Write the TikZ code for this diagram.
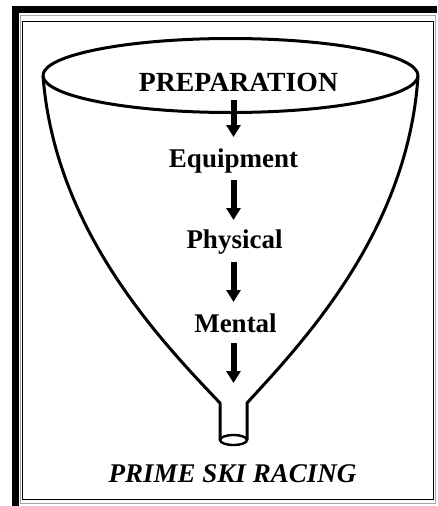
\documentclass[tikz,border=0pt]{standalone}
\usepackage{fontspec}
\setmainfont{Liberation Serif}
\usetikzlibrary{arrows.meta,calc}
\begin{document}
\begin{tikzpicture}[x=1pt,y=-1pt,
  lbl/.style={inner sep=0pt, anchor=base, font=\bfseries\fontsize{27}{29}\selectfont},
  flow/.style={line width=6pt, -{Triangle[length=12pt,width=14pt]}},
  funnel/.style={line width=3pt, line join=round}]
\useasboundingbox (0,0) rectangle (437,506);
% frame
\fill (12,6) rectangle (437,13);
\fill (12,6) rectangle (19,506);
\draw[gray!70, line width=1pt] (20.5,15.5) rectangle (435.5,503);
\draw[line width=1.4pt] (22.5,21.5) rectangle (433.5,499.5);
% funnel
\draw[funnel] (230.5,75.5) ellipse [x radius=187.5, y radius=37];
\draw[funnel] (43,76) .. controls (55,230) and (160,340) .. (220,403) -- (220,440);
\draw[funnel] (418,76) .. controls (408,230) and (305,340) .. (247,403) -- (247,440);
\draw[line width=2.4pt] (233.5,440) ellipse [x radius=13.5, y radius=5];
% labels
\node[lbl, font=\bfseries\fontsize{27.7}{29}\selectfont] (prep) at (238.5,91) {PREPARATION};
\node[lbl] (equip) at (233.5,167) {Equipment};
\node[lbl] (phys) at (234.5,248) {Physical};
\node[lbl] (ment) at (235.5,332) {Mental};
\node[lbl, font=\bfseries\itshape\fontsize{27}{29}\selectfont] (title) at (232.5,482) {PRIME SKI RACING};
\coordinate (spout) at (233.5,383);
% arrows
\draw[flow] ($(prep.base -| equip.base)+(0,9)$) -- ($(equip.base)+(0,-30)$);
\draw[flow] ($(equip.base)+(0,13)$) -- ($(phys.base -| equip.base)+(0,-28)$);
\draw[flow] ($(phys.base -| equip.base)+(0,14)$) -- ($(ment.base -| equip.base)+(0,-30)$);
\draw[flow] ($(ment.base -| equip.base)+(0,11)$) -- (spout);
\end{tikzpicture}
\end{document}
